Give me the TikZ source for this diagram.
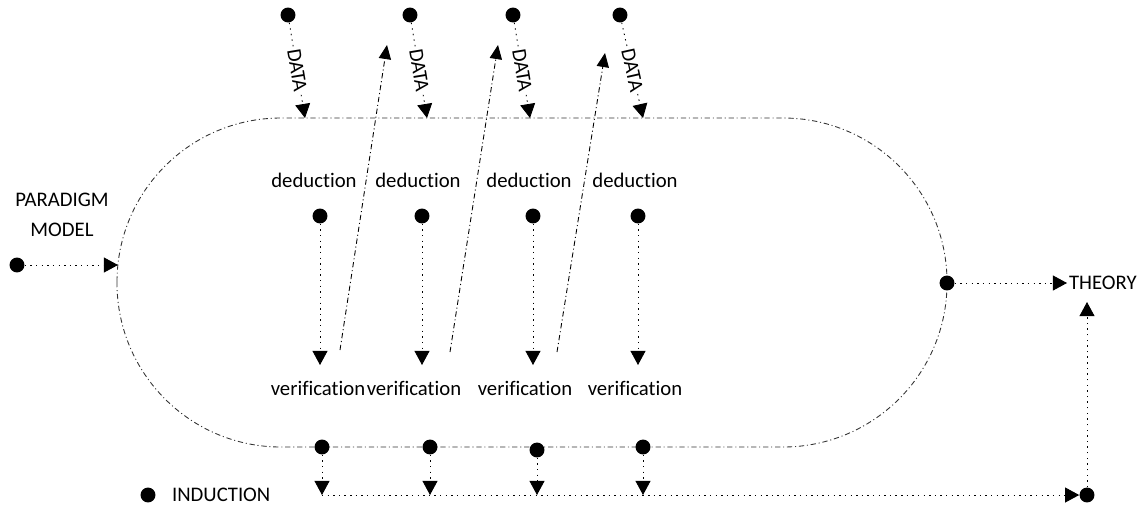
\documentclass[tikz,border=0pt]{standalone}
\usepackage{fontspec}
\setmainfont[Ligatures=NoCommon]{Carlito}
\usetikzlibrary{arrows.meta}
\tikzstyle{dot}=[circle, fill=black, inner sep=0pt, minimum size=8.5pt]
\tikzstyle{lbl}=[font=\fontsize{11.8}{17}\selectfont, inner sep=1pt]
\tikzstyle{flow}=[draw=black, line width=0.5pt, dash pattern=on 0.8pt off 2.4pt, -{Triangle[width=8.5pt,length=8pt]}]
\tikzstyle{back}=[draw=black, line width=0.5pt, dash pattern=on 3pt off 1.6pt on 0.6pt off 1.6pt, -{Triangle[width=7pt,length=8pt]}]
\tikzstyle{ring}=[draw=black!80, line width=0.5pt, dash pattern=on 3pt off 1.6pt on 0.6pt off 1.6pt]

\begin{document}
\begin{tikzpicture}[x=0.02cm, y=-0.02cm]
\useasboundingbox (0,0) rectangle (1148,508);
\draw[ring, rounded corners=3.28cm] (117,118) rectangle (947,447);
\coordinate (in) at (118,265);
\node[lbl, align=center] (pmlabel) at (62,215) {PARADIGM\\MODEL};
\node[dot] (pm) at (17,265) {};
\draw[flow] (pm) -- (in);
\node[dot] (d1) at (288,15) {};
\node[dot] (d2) at (410,15) {};
\node[dot] (d3) at (513,15) {};
\node[dot] (d4) at (620,15) {};
\coordinate (t1) at (305,118);
\coordinate (t2) at (427,118);
\coordinate (t3) at (530,118);
\coordinate (t4) at (643,118);
\draw[flow] (d1) -- node[lbl, sloped, fill=white] {DATA} (t1);
\draw[flow] (d2) -- node[lbl, sloped, fill=white] {DATA} (t2);
\draw[flow] (d3) -- node[lbl, sloped, fill=white] {DATA} (t3);
\draw[flow] (d4) -- node[lbl, sloped, fill=white] {DATA} (t4);
\node[lbl] (ded1) at (314,180) {deduction};
\node[lbl] (ded2) at (418,180) {deduction};
\node[lbl] (ded3) at (529,180) {deduction};
\node[lbl] (ded4) at (635,180) {deduction};
\node[dot] (e1) at (320,216) {};
\node[dot] (e2) at (422,216) {};
\node[dot] (e3) at (533,216) {};
\node[dot] (e4) at (638,216) {};
\coordinate (v1) at (320,365);
\coordinate (v2) at (422,365);
\coordinate (v3) at (533,365);
\coordinate (v4) at (638,365);
\draw[flow] (e1) -- (v1);
\draw[flow] (e2) -- (v2);
\draw[flow] (e3) -- (v3);
\draw[flow] (e4) -- (v4);
\node[lbl] (ver1) at (318,388) {verification};
\node[lbl] (ver2) at (414,388) {verification};
\node[lbl] (ver3) at (525,388) {verification};
\node[lbl] (ver4) at (635,388) {verification};
\coordinate (us1) at (340,350);
\coordinate (us2) at (450,352);
\coordinate (us3) at (557,352);
\coordinate (ue1) at (387,45);
\coordinate (ue2) at (498,45);
\coordinate (ue3) at (605,53);
\draw[back] (us1) -- (ue1);
\draw[back] (us2) -- (ue2);
\draw[back] (us3) -- (ue3);
\node[dot] (b1) at (322,447) {};
\node[dot] (b2) at (430,447) {};
\node[dot] (b3) at (537,450) {};
\node[dot] (b4) at (643,447) {};
\coordinate (a1) at (322,495);
\coordinate (a2) at (430,495);
\coordinate (a3) at (537,495);
\coordinate (a4) at (643,495);
\draw[flow] (b1) -- (a1);
\draw[flow] (b2) -- (a2);
\draw[flow] (b3) -- (a3);
\draw[flow] (b4) -- (a4);
\node[dot] (il) at (148,495) {};
\node[lbl, anchor=west] (indlabel) at (170,495) {INDUCTION};
\node[dot] (ind) at (1087,495) {};
\draw[flow] (a1) -- (ind);
\node[dot] (r) at (947,283) {};
\node[lbl, anchor=west] (theory) at (1067,283) {THEORY};
\draw[flow] (r) -- (theory);
\coordinate (ta) at (1087,302);
\draw[flow] (ind) -- (ta);
\end{tikzpicture}
\end{document}
